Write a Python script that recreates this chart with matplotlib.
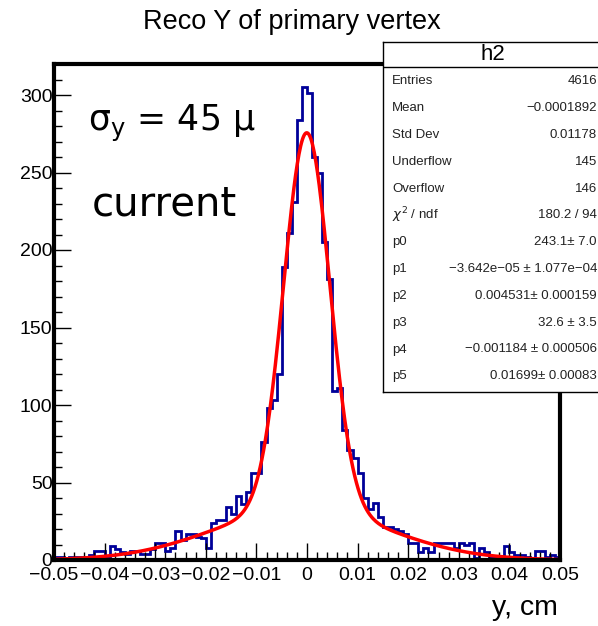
import numpy as np
import matplotlib
matplotlib.use("Agg")
import matplotlib.pyplot as plt
from matplotlib.ticker import MultipleLocator, FuncFormatter

plt.rcParams['font.family'] = ['Liberation Sans', 'DejaVu Sans']

# histogram: 100 bins from -0.05 to 0.05 cm
x_lo, x_hi, n_bins = -0.05, 0.05, 100
counts = [2, 2, 1, 2, 2, 2, 2, 3, 6, 6,
          2, 9, 7, 5, 4, 6, 6, 4, 4, 7,
          11, 11, 6, 8, 19, 13, 17, 17, 15, 14,
          8, 24, 26, 26, 34, 30, 41, 36, 44, 56,
          56, 76, 98, 103, 120, 189, 211, 231, 284, 305,
          301, 260, 250, 205, 181, 109, 111, 84, 71, 66,
          56, 40, 33, 37, 28, 21, 21, 20, 19, 17,
          11, 11, 5, 8, 5, 11, 11, 11, 11, 8,
          11, 10, 11, 1, 8, 5, 2, 2, 2, 9,
          5, 3, 3, 2, 1, 6, 6, 2, 3, 2]

# fit parameters (double gaussian) from the stats box
p0, p1, p2 = 243.1, -3.642e-05, 0.004531
p3, p4, p5 = 32.6, -0.001184, 0.01699

stat_labels = ["Entries", "Mean", "Std Dev", "Underflow", "Overflow",
               r"$\chi^2$ / ndf", "p0", "p1", "p2", "p3", "p4", "p5"]
stat_values = ["4616", "\u22120.0001892", "0.01178", "145", "146", "180.2 / 94",
               "243.1\u00b1 7.0", "\u22123.642e\u221205 \u00b1 1.077e\u221204",
               "0.004531\u00b1 0.000159", "32.6 \u00b1 3.5",
               "\u22120.001184 \u00b1 0.000506", "0.01699\u00b1 0.00083"]

W, H = 598, 626
fig = plt.figure(figsize=(W / 100, H / 100), dpi=100)
ax = fig.add_axes([54 / W, 1 - 560 / H, (560 - 54) / W, (560 - 64) / H])

edges = np.linspace(x_lo, x_hi, n_bins + 1)
ax.stairs(counts, edges, color="#000099", linewidth=2, baseline=None)

xf = np.linspace(x_lo, x_hi, 600)
yf = p0 * np.exp(-0.5 * ((xf - p1) / p2) ** 2) + p3 * np.exp(-0.5 * ((xf - p4) / p5) ** 2)
ax.plot(xf, yf, color="red", linewidth=2.5)

ax.set_xlim(x_lo, x_hi)
ax.set_ylim(0, 320)
for s in ax.spines.values():
    s.set_linewidth(3)
ax.xaxis.set_major_locator(MultipleLocator(0.01))
ax.xaxis.set_minor_locator(MultipleLocator(0.002))
ax.yaxis.set_major_locator(MultipleLocator(50))
ax.yaxis.set_minor_locator(MultipleLocator(10))
ax.tick_params(which="both", direction="in", top=False, right=False, width=1,
               labelsize=14)
ax.tick_params(axis="x", pad=5)
ax.tick_params(axis="y", pad=1)
ax.tick_params(which="major", length=12)
ax.tick_params(which="minor", length=6)


def fmt(v, pos):
    if abs(v) < 1e-9:
        return "0"
    return ("%.2f" % v).replace("-", "\u2212")


ax.xaxis.set_major_formatter(FuncFormatter(fmt))

fig.text(292 / W, 1 - 22 / H, "Reco Y of primary vertex", ha="center", va="center",
         fontsize=19.5)
fig.text(558 / W, 1 - 608 / H, "y, cm", ha="right", va="center", fontsize=20.5)

ax.text(88 / W, 1 - 123 / H, "\u03c3$_{\\mathregular{y}}$ = 45 \u03bc", transform=fig.transFigure,
        fontsize=25, family="DejaVu Sans", va="center", ha="left")
ax.text(92 / W, 1 - 205 / H, "current", transform=fig.transFigure,
        fontsize=29, family="DejaVu Sans", va="center", ha="left")

# stats box
bx0, by0, bx1, by1 = 383, 42, 599, 392
sb = fig.add_axes([bx0 / W, 1 - by1 / H, (bx1 - bx0) / W, (by1 - by0) / H])
sb.set_xlim(bx0, bx1)
sb.set_ylim(by1, by0)
sb.set_xticks([])
sb.set_yticks([])
for s in sb.spines.values():
    s.set_linewidth(1)
sb.axhline(67, color="black", linewidth=1)
sb.text(493, 55, "h2", ha="center", va="center", fontsize=16)
row_y0, row_dy = 81.5, 26.8
for i, (lab, val) in enumerate(zip(stat_labels, stat_values)):
    y = row_y0 + i * row_dy
    sb.text(392, y, lab, ha="left", va="center", fontsize=9.5, color="#222222")
    sb.text(597, y, val, ha="right", va="center", fontsize=9.5, color="#222222")

fig.savefig("out.png", dpi=100)
